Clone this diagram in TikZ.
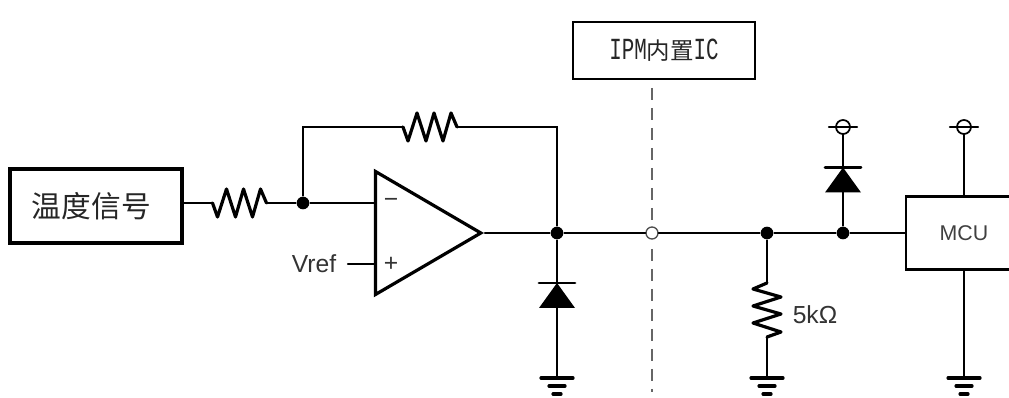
\documentclass[tikz, border=0pt]{standalone}
\usepackage{fontspec}
\setmainfont{Liberation Sans}
\newfontfamily\cjk{Noto Sans CJK SC}
\newfontfamily\slab[FakeStretch = 0.68]{Liberation Mono}
\usetikzlibrary{positioning, shapes.geometric}
\tikzset{
  wire/.style = {line width = 1.7pt, line cap = round},
  dot/.style = {circle, fill = black, inner sep = 0pt, minimum size = 9.5pt},
  opendot/.style = {circle, draw = black!70, fill = white, line width = 1pt, inner sep = 0pt, minimum size = 9pt},
  sigbox/.style = {draw, line width = 2.5pt, inner sep = 0pt},
  mcubox/.style = {draw, line width = 1.9pt, inner sep = 0pt, minimum width = 87pt, minimum height = 54.75pt, font = \fontsize{16}{16}\selectfont, text = black!75},
  ampbox/.style = {draw, line width = 2.4pt, isosceles triangle, isosceles triangle stretches, inner sep = 0pt, minimum height = 79pt, minimum width = 92.25pt, anchor = apex, line join = miter},
  lbl/.style = {font = \fontsize{18.5}{18.5}\selectfont, text = black!80, inner sep = 0pt},
  resistor/.pic = {
    \coordinate (-in) at (-27,0);
    \coordinate (-out) at (27,0);
    \draw [line width = 2.4pt, line join = round] (-in) -- (-22,-14) -- (-13,14) -- (-4,-14) -- (4,14) -- (13,-14) -- (21,14) -- (-out);
  },
  diode/.pic = {
    \coordinate (-k) at (0,12.5);
    \coordinate (-a) at (0,-12.5);
    \fill (-a) ++(-18,0) -- ++(36,0) -- (-k) -- cycle;
    \draw [line width = 2.2pt] (-18,12.5) -- (18,12.5);
  },
  earth/.pic = {
    \coordinate (-top) at (0,0);
    \draw [line width = 2.4pt] (-16,0) -- (16,0);
    \draw [line width = 2.4pt] (-8,-8) -- (8,-8);
    \draw [line width = 2.4pt] (-4,-16) -- (4,-16);
  },
  supply/.pic = {
    \coordinate (-foot) at (0,-7);
    \draw [line width = 1.3pt] (0,0) circle [radius = 7];
    \draw [line width = 1.7pt] (-14,0) -- (14,0);
  }
}

\begin{document}
\begin{tikzpicture}[x = 0.75pt, y = 0.75pt, wire, on grid]
  \useasboundingbox (0,0) rectangle (1009,398);
  \clip (0,0) rectangle (1009,398);

  \node (tempsig) [sigbox, minimum width = 129pt, minimum height = 55.5pt] at (96,192) {\cjk\fontsize{22.3}{22.3}\selectfont\color{black!85}温度信号\kern7pt};
  \node (ipmic) [sigbox, line width = 2.2pt, minimum width = 136.5pt, minimum height = 42.75pt] at (664,347.5) {\fontsize{23}{23}\selectfont\slab\color{black!85}IPM{\cjk\fontsize{17.6}{17.6}\selectfont 内置}IC};

  \node (jout) [dot] at (557,165) {};
  \node (jopen) [opendot, right = 95 of jout] {};
  \node (jres) [dot, right = 115 of jopen] {};
  \node (jdio) [dot, right = 76 of jres] {};
  \node (mcu) [mcubox, right = 121 of jdio] {MCU};

  \node (opamp) [ampbox] at (485,165) {};
  \node (jinv) [dot] at (303,195) {};
  \coordinate (ninv) at (jinv -| opamp.lower side);
  \coordinate (nref) at (348,134);
  \coordinate (dashtop) at (jopen |- 0,310);
  \coordinate (dashend) at (jopen |- 0,6);
  \node (vref) [lbl] at (314,134) {Vref};
  \node (minus) [lbl] at (391,195) {−};
  \node (plus) [lbl] at (391,134) {+};

  \pic (rin) at (239.5,195) {resistor};
  \pic (rfb) at (430,271) {resistor};
  \pic (rpull) [rotate = 90] at (767,88) {resistor};
  \node (rval) [lbl] at (815,83) {5kΩ};

  \pic (dlow) at (557,102.5) {diode};
  \pic (dhigh) at (843,218) {diode};

  \pic (glow) at (557,20) {earth};
  \pic (gpull) at (767,20) {earth};
  \pic (gmcu) at (964,20) {earth};
  \pic (vhigh) at (843,271) {supply};
  \pic (vmcu) at (964,271) {supply};

  % signal path
  \draw (tempsig.east |- rin-in) -- (rin-in);
  \draw (rin-out) -- (jinv);
  \draw (jinv) -- (ninv);
  \draw (jinv) |- (rfb-in);
  \draw (rfb-out) -| (jout);
  \draw (nref) -- (nref -| opamp.lower side);
  \draw (opamp.apex) -- (jout);
  \draw (jout) -- (jopen);
  \draw (jopen) -- (jres);
  \draw (jres) -- (jdio);
  \draw (jdio) -- (mcu.west);

  % clamps and pull-down
  \draw (jout) -- (dlow-k);
  \draw (dlow-a) -- (glow-top);
  \draw (jres) -- (rpull-out);
  \draw (rpull-in) -- (gpull-top);
  \draw (jdio) -- (dhigh-a);
  \draw (dhigh-k) -- (vhigh-foot);
  \draw (vmcu-foot) -- (mcu.north);
  \draw (mcu.south) -- (gmcu-top);

  % isolation line
  \draw [draw = black!60, line width = 1.5pt, line cap = butt, dash pattern = on 9pt off 6pt, shorten > = 5pt] (dashtop) -- (jopen);
  \draw [draw = black!60, line width = 1.5pt, line cap = butt, dash pattern = on 9pt off 6pt, shorten < = 7pt] (jopen) -- (dashend);
\end{tikzpicture}
\end{document}
